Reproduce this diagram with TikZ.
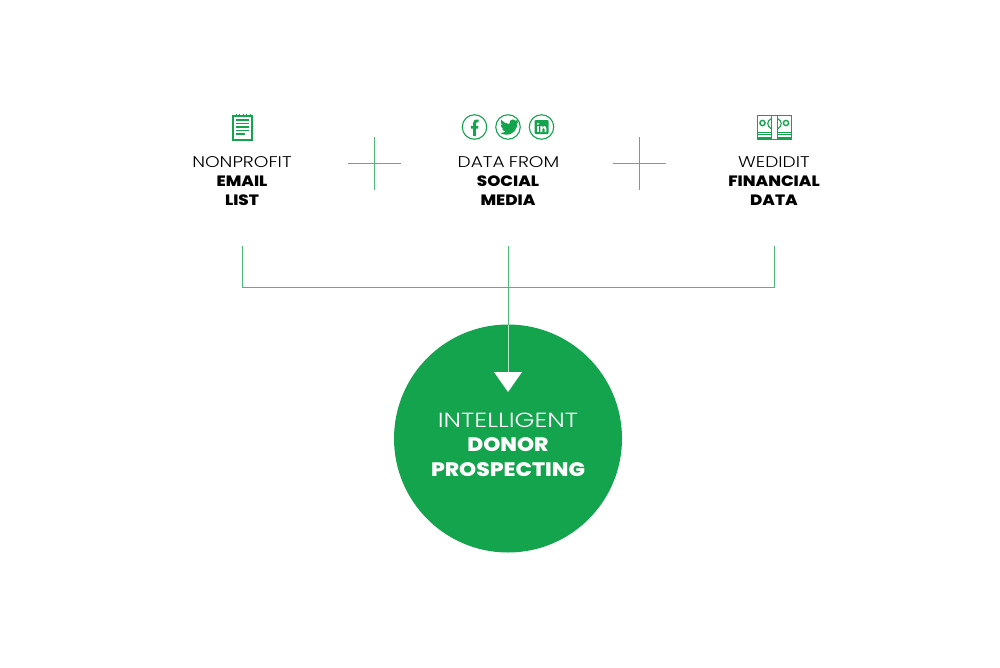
\documentclass[tikz,border=0pt]{standalone}
\usepackage{fontspec}
\setmainfont{Poppins}
\newfontfamily\lightf[FakeStretch=1.2]{Poppins Light}
\newfontfamily\lightbig[FakeStretch=1.245]{Poppins Light}
\newfontfamily\heavyf[FakeStretch=1.115]{Poppins ExtraBold}
\usetikzlibrary{calc}
\definecolor{brand}{HTML}{14A44D}
\definecolor{thinline}{HTML}{4DB877}
\tikzset{
  x=1pt,y=-1pt,
  lbl/.style={inner sep=0pt,anchor=base,text=black,font=\lightf\fontsize{15.5}{15.5}\selectfont},
  lblb/.style={inner sep=0pt,anchor=base,text=black,font=\heavyf\fontsize{15}{15}\selectfont},
  big/.style={inner sep=0pt,anchor=base,text=white,font=\lightbig\fontsize{20.5}{20.5}\selectfont},
  bigb/.style={inner sep=0pt,anchor=base,text=white,font=\heavyf\fontsize{19.5}{19.5}\selectfont},
  conn/.style={draw=thinline,line width=1pt},
  icon/.style={draw=brand,line width=1pt},
  social/.style={circle,draw=brand,line width=1.1pt,minimum size=24.5pt,inner sep=0pt},
}
\begin{document}
\begin{tikzpicture}
\useasboundingbox (0,0) rectangle (1000,667);
\fill[white] (0,0) rectangle (1000,667);
% circle
\node[circle,fill=brand,minimum size=228pt,inner sep=0pt] (hub) at (508,438.5) {};
% coordinates
\coordinate (a) at (242,246);
\coordinate (b) at (508,246);
\coordinate (c) at (774,246);
\coordinate (ac) at (242,287.5);
\coordinate (cc) at (774,287.5);
\coordinate (tip) at (508,372);
\coordinate (edge) at (508,325);
\draw[conn] (a) -- (ac) -- (cc) -- (c);
\draw[conn] (b) -- (edge);
\draw[draw=white!70!brand,line width=1pt] (edge) -- (tip);
\fill[white] (494,372) -- (522,372) -- (508,392) -- cycle;
% plus signs
\coordinate (p1l) at (348,163.5); \coordinate (p1r) at (401,163.5);
\coordinate (p1t) at (374.5,137); \coordinate (p1b) at (374.5,190);
\draw[conn] (p1l) -- (p1r); \draw[conn] (p1t) -- (p1b);
\coordinate (p2l) at (612.5,163.5); \coordinate (p2r) at (665.5,163.5);
\coordinate (p2t) at (639,137); \coordinate (p2b) at (639,190);
\draw[conn] (p2l) -- (p2r); \draw[conn] (p2t) -- (p2b);
% labels
\node[lbl] (t1) at (242,167) {NONPROFIT};
\node[lblb] (t2) at (242,186) {EMAIL};
\node[lblb] (t3) at (242,205) {LIST};
\node[lbl] (t4) at (508.5,167) {DATA\kern-1pt{} FROM};
\node[lblb] (t5) at (508,186) {SOCIAL};
\node[lblb] (t6) at (508,205) {MEDIA};
\node[lbl] (t7) at (774,167) {WEDIDIT};
\node[lblb] (t8) at (774,186) {FINANCIAL};
\node[lblb] (t9) at (774,205) {DATA};
\node[big] (t10) at (508,427) {INTELLIGENT};
\node[bigb] (t11) at (508,451.5) {DONOR};
\node[bigb] (t12) at (508,476) {PROSPECTING};
% notepad icon
\draw[icon,line width=1.3pt] (233,116) rectangle (252,140);
\foreach \x in {236,239.5,243,246.5,250} \draw[brand,line width=1pt] (\x,113.5) -- (\x,116);
\foreach \y/\e in {120/249,123.5/249,127/249,130.5/249,134/245} \draw[brand,line width=1.1pt] (236,\y) -- (\e,\y);
% social icons
\node[social] (fb) at (474.5,127) {};
\node[social] (tw) at (508,127) {};
\node[social] (li) at (541.5,127) {};
\fill[brand] (473,136) -- (473,128.5) -- (470.8,128.5) -- (470.8,125.8) -- (473,125.8) -- (473,123.2)
  .. controls (473,120.3) and (474.8,119.2) .. (478.5,119.5) -- (478.5,122.1)
  .. controls (476.5,122) and (475.9,122.4) .. (475.9,123.6) -- (475.9,125.8) -- (478.4,125.8) -- (478,128.5) -- (475.9,128.5) -- (475.9,136) -- cycle;
% twitter bird
\fill[brand] (519,121.2) .. controls (518.2,121.6) and (517.4,121.8) .. (516.6,121.9)
  .. controls (517.4,121.4) and (518.1,120.6) .. (518.4,119.7)
  .. controls (517.6,120.2) and (516.7,120.5) .. (515.8,120.7)
  .. controls (514.2,119) and (511.6,119) .. (510.2,120.6)
  .. controls (509.3,121.6) and (509,122.8) .. (509.3,124)
  .. controls (506.1,123.8) and (503.2,122.3) .. (501.2,119.9)
  .. controls (500.2,121.7) and (500.7,124) .. (502.4,125.2)
  .. controls (501.8,125.2) and (501.2,125) .. (500.6,124.7)
  .. controls (500.6,126.6) and (501.9,128.2) .. (503.8,128.6)
  .. controls (503.2,128.8) and (502.6,128.8) .. (502,128.7)
  .. controls (502.5,130.2) and (503.9,131.3) .. (505.6,131.4)
  .. controls (504.1,132.6) and (502.1,133.1) .. (500.2,132.9)
  .. controls (502,134.1) and (504,134.7) .. (506.2,134.7)
  .. controls (513.4,134.7) and (517.6,128.7) .. (517.3,123.2)
  .. controls (518,122.7) and (518.6,122) .. (519,121.2) -- cycle;
% linkedin
\fill[brand,rounded corners=1pt] (534.5,120) rectangle (548.5,134);
\fill[white] (537,126.2) rectangle (538.9,132);
\fill[white] (538,123.8) circle (1.1pt);
\fill[white] (540.4,126.2) -- (542.2,126.2) -- (542.2,127) .. controls (543.1,125.8) and (546.4,125.5) .. (546.4,128.6)
  -- (546.4,132) -- (544.5,132) -- (544.5,129) .. controls (544.5,127.5) and (542.3,127.5) .. (542.3,129.2) -- (542.3,132) -- (540.4,132) -- cycle;
% money icon
\draw[icon,line width=1.4pt] (757.5,115.5) rectangle (791.5,139);
\draw[brand,line width=1pt] (757.5,132) -- (791.5,132);
\draw[brand,line width=1pt] (757.5,134.5) -- (791.5,134.5);
\draw[brand,line width=1pt] (757.5,137) -- (791.5,137);
\fill[white] (771.5,116) rectangle (777.5,139);
\draw[brand,line width=1.2pt] (771.5,115) -- (771.5,139.5);
\draw[brand,line width=1.2pt] (777.5,115) -- (777.5,139.5);
\draw[brand,line width=1.4pt] (762.5,123) circle (2.6pt);
\draw[brand,line width=1.4pt] (786,123) circle (2.6pt);
\draw[brand,line width=1.1pt] (771.5,118.5) .. controls (766.5,121) and (766.5,126) .. (771.5,129);
\draw[brand,line width=1.1pt] (777.5,118.5) .. controls (782.5,121) and (782.5,126) .. (777.5,129);
\end{tikzpicture}
\end{document}
